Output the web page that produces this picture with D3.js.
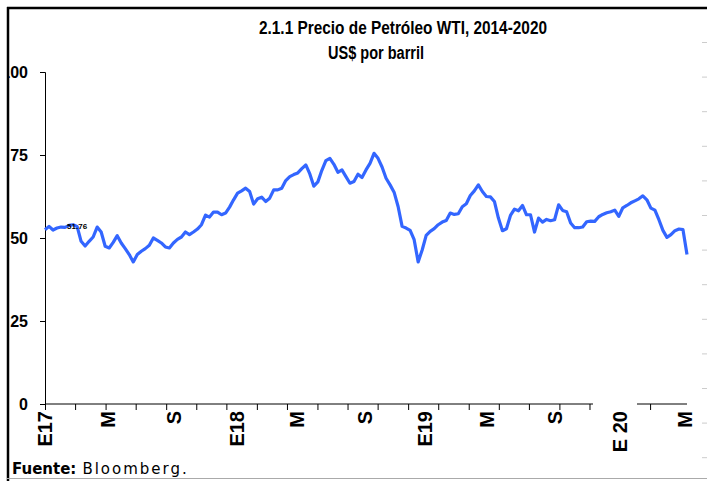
<!DOCTYPE html>
<html>
<head>
<meta charset="utf-8">
<script src="https://cdn.jsdelivr.net/npm/d3@7"></script>
<style>
  body { margin: 0; background: #fff; }
  svg { display: block; }
</style>
</head>
<body>
<svg id="chart" width="707" height="481"></svg>
<script>
// Precio WTI, US$ por barril (weekly samples, Jan 2017 - Mar 2020)
const wti = [
  52.5, 53.5, 52.4, 53.0, 53.3, 53.2, 53.8, 54.0, 53.5, 49.0,
  47.6, 49.0, 50.3, 53.3, 51.8, 47.5, 47.0, 48.7, 50.7, 48.5,
  46.8, 45.0, 42.8, 45.0, 46.0, 46.8, 47.8, 50.0, 49.3, 48.5,
  47.3, 47.0, 48.5, 49.6, 50.3, 51.8, 51.0, 51.8, 52.7, 54.0,
  56.9, 56.3, 57.8, 57.8, 57.0, 57.5, 59.3, 61.5, 63.5, 64.2,
  65.0, 64.0, 60.2, 61.8, 62.3, 61.0, 62.0, 64.5, 64.5, 65.0,
  67.3, 68.5, 69.1, 69.6, 70.9, 72.0, 69.3, 65.6, 66.9, 70.4,
  73.3, 74.0, 72.2, 69.8, 70.5, 68.5, 66.5, 67.0, 69.2, 68.2,
  70.5, 72.5, 75.5, 74.0, 71.4, 68.0, 66.0, 63.8, 59.5, 53.5,
  53.0, 52.3, 49.5, 42.8, 46.4, 50.8, 52.0, 52.8, 54.0, 54.8,
  55.3, 57.5, 57.1, 57.3, 59.4, 60.3, 62.8, 64.2, 66.0, 64.0,
  62.5, 62.4, 61.0, 56.0, 52.2, 52.8, 56.8, 58.7, 58.2, 59.8,
  57.0, 57.0, 51.8, 56.0, 54.8, 55.6, 55.2, 55.5, 60.0, 58.3,
  57.9, 54.5, 53.1, 53.1, 53.3, 54.9, 55.1, 55.0, 56.4, 57.1,
  57.6, 57.9, 58.4, 56.5, 59.1, 59.8, 60.6, 61.2, 61.8, 62.7,
  61.5, 59.0, 58.4, 55.5, 52.3, 50.2, 51.0, 52.2, 52.7, 52.5,
  45.0
];

// x-axis labels (E = enero, M = mayo, S = septiembre) and their week position
const xLabels = ["E17", "M", "S", "E18", "M", "S", "E19", "M", "S", "E 20", "M"];
const xLabelWeeks = [0, 15.7, 32.1, 47.8, 62.8, 79.7, 94.7, 110.1, 127.1, 143.3, 159.5];
// tick marks along the x axis (week position)
const xTickWeeks = [0, 7.5, 15.1, 22.6, 30.2, 37.7, 45.2, 52.8, 60.3, 67.9, 75.4,
                    82.9, 90.5, 98.0, 105.6, 113.1, 120.6, 128.2, 135.7, 143.3, 150.8];
const yTicks = [0, 25, 50, 75, 100];
const dataLabel = { week: 5.5, text: "51.76" };

const svg = d3.select("#chart");
const margin = { top: 72, right: 20, bottom: 77, left: 45 };
const width = 707 - margin.left - margin.right;
const height = 481 - margin.top - margin.bottom;

const xScale = d3.scaleLinear().domain([0, wti.length - 1]).range([margin.left, margin.left + width]);
const yScale = d3.scaleLinear().domain([0, 100]).range([margin.top + height, margin.top]);

// title (narrow bold look)
const title = svg.append("g")
    .style("font-family", "'Liberation Sans', Arial, sans-serif")
    .style("font-weight", "bold")
    .style("font-size", "18px")
    .attr("text-anchor", "middle");
title.append("text").attr("x", 403).attr("y", 34)
    .attr("textLength", 288).attr("lengthAdjust", "spacingAndGlyphs")
    .text("2.1.1 Precio de Petróleo WTI, 2014-2020");
title.append("text").attr("x", 376).attr("y", 59)
    .attr("textLength", 96).attr("lengthAdjust", "spacingAndGlyphs")
    .text("US$ por barril");

// y axis
const yAxis = svg.append("g")
    .attr("transform", `translate(${margin.left},0)`)
    .call(d3.axisLeft(yScale).tickValues(yTicks).tickSize(5).tickPadding(12));
yAxis.select(".domain").attr("stroke", "#000");
yAxis.selectAll(".tick line").attr("stroke", "#000");
yAxis.selectAll("text")
    .style("font-family", "'Liberation Sans', Arial, sans-serif")
    .style("font-weight", "bold")
    .style("font-size", "16px")
    .attr("fill", "#000");

// x axis
const xAxis = svg.append("g")
    .attr("transform", `translate(0,${yScale(0)})`)
    .call(d3.axisBottom(xScale).tickValues(xTickWeeks).tickSize(6).tickFormat(""));
xAxis.select(".domain").attr("d", `M${xScale(0)},0H${xScale(wti.length - 1)}`).attr("stroke", "#000");
xAxis.selectAll(".tick line").attr("stroke", "#000");

// white box behind the "E 20" label hides part of the axis
svg.append("rect")
    .attr("x", xScale(xLabelWeeks[9]) - 27)
    .attr("y", yScale(0) - 2)
    .attr("width", 44)
    .attr("height", 12)
    .attr("fill", "#fff");

svg.append("g")
    .style("font-family", "'Liberation Sans', Arial, sans-serif")
    .style("font-weight", "bold")
    .style("font-size", "20px")
    .selectAll("text")
    .data(xLabels)
    .join("text")
    .attr("transform", (d, i) => `translate(${xScale(xLabelWeeks[i])},411) rotate(-90)`)
    .attr("text-anchor", "end")
    .attr("dy", "0.36em")
    .text(d => d);

// WTI line
const line = d3.line()
    .x((d, i) => xScale(i))
    .y(d => yScale(d));

svg.append("path")
    .datum(wti)
    .attr("fill", "none")
    .attr("stroke", "#3366ff")
    .attr("stroke-width", 3.2)
    .attr("stroke-linejoin", "round")
    .attr("d", line);

svg.append("text")
    .attr("x", xScale(dataLabel.week))
    .attr("y", 229)
    .style("font-family", "'Liberation Sans', Arial, sans-serif")
    .style("font-weight", "bold")
    .style("font-size", "8px")
    .text(dataLabel.text);

// source
const src = svg.append("text")
    .attr("x", 12)
    .attr("y", 474)
    .style("font-family", "'DejaVu Sans', sans-serif")
    .style("font-size", "15px");
src.append("tspan").style("font-weight", "bold").text("Fuente:");
src.append("tspan").attr("dx", 6).style("letter-spacing", "2px").text("Bloomberg.");

// frame: clip y labels at the left border
svg.append("rect").attr("x", 0).attr("y", 0).attr("width", 7).attr("height", 481).attr("fill", "#fff");
svg.append("line").attr("x1", 8).attr("x2", 8).attr("y1", 7).attr("y2", 481)
    .attr("stroke", "#000").attr("stroke-width", 2.5);
svg.append("line").attr("x1", 7).attr("x2", 707).attr("y1", 8).attr("y2", 8)
    .attr("stroke", "#000").attr("stroke-width", 2.5);
svg.append("line").attr("x1", 7).attr("x2", 707).attr("y1", 478.5).attr("y2", 478.5)
    .attr("stroke", "#aaa").attr("stroke-width", 1);
svg.append("g").selectAll("line")
    .data(d3.range(13))
    .join("line")
    .attr("x1", 702).attr("x2", 707)
    .attr("y1", d => 42.5 + d * 34.6).attr("y2", d => 42.5 + d * 34.6)
    .attr("stroke", "#ccc");
</script>
</body>
</html>
